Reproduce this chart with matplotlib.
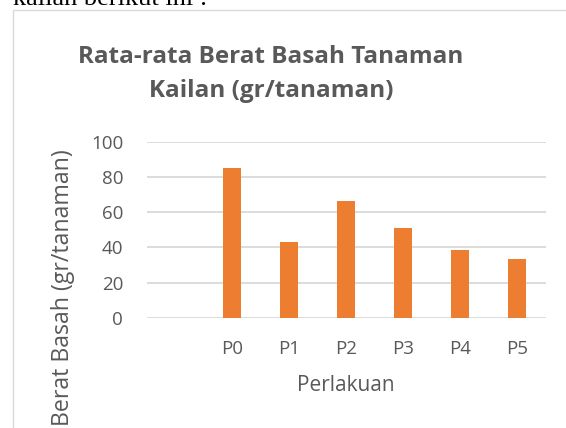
import matplotlib.pyplot as plt
from matplotlib.patches import Rectangle

# Rata-rata berat basah tanaman kailan per perlakuan
categories = ['', 'P0', 'P1', 'P2', 'P3', 'P4', 'P5']
values = [0, 85.2, 43.2, 66.3, 50.8, 38.3, 33.2]

gray = '#595959'
grid_gray = '#d9d9d9'
orange = '#ed7d31'

plt.rcParams['font.family'] = ['Open Sans', 'DejaVu Sans']

fig = plt.figure(figsize=(5.66, 4.28), dpi=100)

# chart frame (cut by the page edges) and the text above it
fig.patches.append(Rectangle((13 / 566, -0.1), 1.0, 1 - 10 / 428 + 0.1,
                             transform=fig.transFigure, fill=False,
                             edgecolor=grid_gray, linewidth=1))
fig.text(13 / 566, 1 - 5 / 428, 'kailan berikut ini :', family='Liberation Serif',
         fontsize=19, color='black', va='baseline', ha='left')

ax = fig.add_axes([146.7 / 566, 1 - 317.7 / 428, 399 / 566, 176 / 428])
x = range(len(categories))
ax.bar(x, values, width=0.32, color=orange, zorder=3)

ax.set_xlim(-0.5, len(categories) - 0.5)
ax.set_ylim(0, 100)
ax.set_yticks([0, 20, 40, 60, 80, 100])
ax.set_xticks(list(x))
ax.set_xticklabels(categories)

for s in ax.spines.values():
    s.set_visible(False)
ax.grid(axis='y', color=grid_gray, linewidth=1.3, zorder=0)
ax.tick_params(axis='both', length=0, labelsize=13.5, colors=gray)
ax.tick_params(axis='y', pad=17)
ax.tick_params(axis='x', pad=16)

ax.set_xlabel('Perlakuan', fontsize=15, color=gray, labelpad=12)

# y label sits low in the chart, as in the original
fig.text(63 / 566, 1 - 288 / 428, 'Berat Basah (gr/tanaman)', rotation=90,
         ha='center', va='center', fontsize=16.7, color=gray)

fig.text(271 / 566, 1 - 74 / 428, 'Rata-rata Berat Basah Tanaman\nKailan (gr/tanaman)',
         ha='center', va='center', fontsize=17.5, fontweight='bold', color=gray,
         linespacing=1.6)

fig.savefig('out.png', dpi=100)
